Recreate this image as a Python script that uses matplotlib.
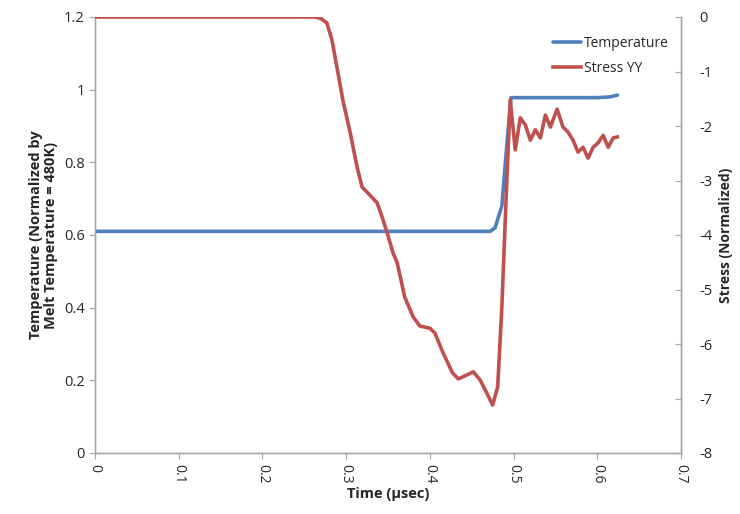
import matplotlib
matplotlib.use("Agg")
import matplotlib.pyplot as plt

plt.rcParams['font.family'] = ['Open Sans', 'DejaVu Sans']

# Temperature (normalized by melt temperature)
temp_time = [0.0, 0.1, 0.2, 0.3, 0.4, 0.472, 0.478, 0.486, 0.492, 0.497, 0.55, 0.60, 0.615, 0.624]
temp_vals = [0.61, 0.61, 0.61, 0.61, 0.61, 0.61, 0.62, 0.68, 0.85, 0.978, 0.978, 0.978, 0.98, 0.985]

# Stress YY (normalized)
stress_time = [0.0, 0.05, 0.10, 0.15, 0.20, 0.25, 0.263, 0.270, 0.277, 0.283, 0.289, 0.296, 0.305,
               0.313, 0.319, 0.326, 0.337, 0.343, 0.349, 0.356, 0.361, 0.370, 0.380, 0.388,
               0.400, 0.406, 0.416, 0.427, 0.434, 0.444, 0.452, 0.460, 0.468, 0.475, 0.481,
               0.486, 0.491, 0.496, 0.502, 0.508, 0.514, 0.520, 0.526, 0.532, 0.538, 0.544,
               0.552, 0.559, 0.565, 0.571, 0.577, 0.583, 0.589, 0.595, 0.601, 0.607, 0.613,
               0.619, 0.624]
stress_vals = [0.0, 0.0, 0.0, 0.0, 0.0, 0.0, 0.0, -0.03, -0.11, -0.42, -0.92, -1.52, -2.13,
               -2.75, -3.12, -3.23, -3.41, -3.67, -3.96, -4.33, -4.51, -5.14, -5.50, -5.67,
               -5.71, -5.80, -6.17, -6.53, -6.64, -6.57, -6.51, -6.66, -6.90, -7.12, -6.79,
               -5.32, -3.36, -1.52, -2.44, -1.85, -1.98, -2.26, -2.07, -2.22, -1.80, -2.02,
               -1.69, -2.02, -2.11, -2.26, -2.48, -2.39, -2.59, -2.39, -2.31, -2.17, -2.39,
               -2.22, -2.20]

x_ticks = [0, 0.1, 0.2, 0.3, 0.4, 0.5, 0.6, 0.7]
x_tick_labels = ['0', '0.1', '0.2', '0.3', '0.4', '0.5', '0.6', '0.7']
left_ticks = [0, 0.2, 0.4, 0.6, 0.8, 1.0, 1.2]
left_tick_labels = ['0', '0.2', '0.4', '0.6', '0.8', '1', '1.2']
right_ticks = [0, -1, -2, -3, -4, -5, -6, -7, -8]

blue = '#4F81BD'
red = '#C0504D'
gray = '#A6A6A6'
txt = '#262626'

fig = plt.figure(figsize=(7.40, 5.14), dpi=100)
ax = fig.add_axes([95/740, 1-453/514, (681-95)/740, (453-17)/514])
ax2 = ax.twinx()

l1, = ax.plot(temp_time, temp_vals, color=blue, lw=2.6, solid_capstyle='round', zorder=3)
l2, = ax2.plot(stress_time, stress_vals, color=red, lw=2.6, solid_joinstyle='round', zorder=3)

ax.set_xlim(0, 0.7)
ax.set_ylim(0, 1.2)
ax2.set_ylim(-8, 0)

ax.set_xticks(x_ticks)
ax.set_xticklabels(x_tick_labels, rotation=-90, fontsize=10, color=txt)
ax.set_yticks(left_ticks)
ax.set_yticklabels(left_tick_labels, fontsize=10.5, color=txt)
ax2.set_yticks(right_ticks)
ax2.set_yticklabels([str(t) for t in right_ticks], fontsize=10.5, color=txt)

for a in (ax, ax2):
    a.spines['top'].set_visible(False)
    for s in ('left', 'right', 'bottom'):
        a.spines[s].set_color(gray)
        a.spines[s].set_linewidth(1.0)
ax.tick_params(axis='both', colors=gray, labelcolor=txt, length=4, width=0.8)
ax.tick_params(axis='x', pad=4)
ax2.tick_params(axis='y', colors=gray, labelcolor=txt, length=4, width=0.8, direction='in', pad=13)

ax.set_xlabel('Time (µsec)', fontsize=10.5, fontweight='bold', color=txt, labelpad=2)
ax.set_ylabel('Temperature (Normalized by\nMelt Temperature = 480K)', fontsize=10.5,
              fontweight='bold', color=txt, labelpad=4, linespacing=1.1)
ax2.set_ylabel('Stress (Normalized)', fontsize=10, fontweight='bold', color=txt,
               rotation=90, labelpad=5)

leg = ax.legend([l1, l2], ['Temperature', 'Stress YY'], loc='upper right',
                bbox_to_anchor=(1.0, 0.985), frameon=False, fontsize=10,
                handlelength=2.0, handletextpad=0.2, labelspacing=0.7)
for t in leg.get_texts():
    t.set_color(txt)

fig.savefig('out.png', dpi=100)
